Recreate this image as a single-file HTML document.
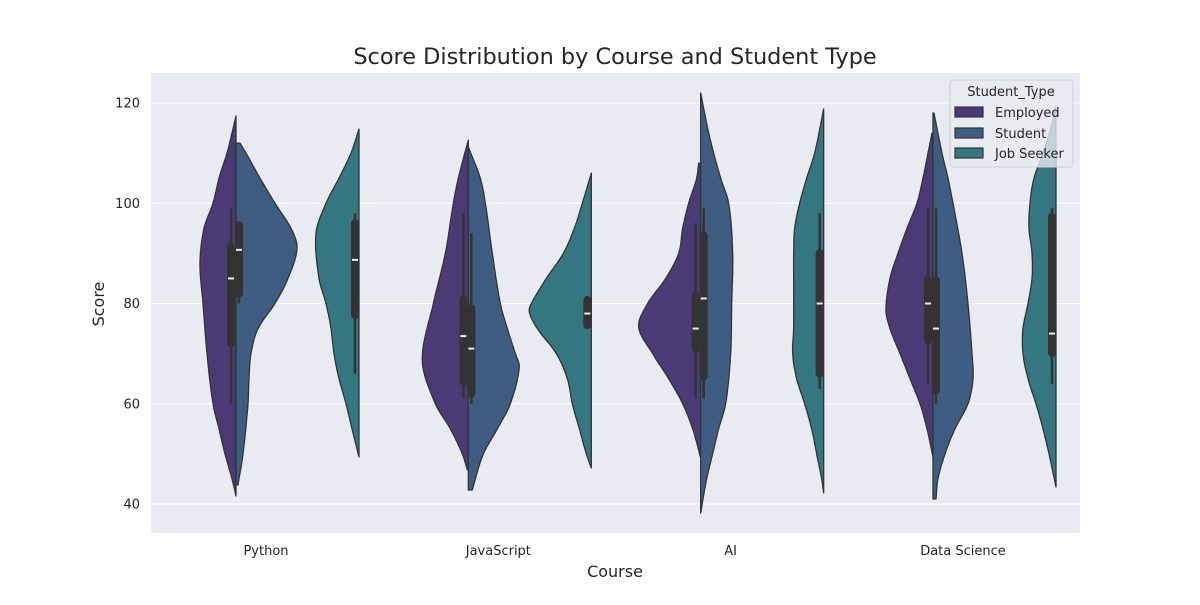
<!DOCTYPE html>
<html><head><meta charset="utf-8"><style>
body{margin:0;background:#fff;font-family:"Liberation Sans","DejaVu Sans",sans-serif;}
svg text{font-family:"DejaVu Sans","Liberation Sans",sans-serif;fill:#262626;}
</style></head><body>
<svg id="chart" width="1200" height="600" viewBox="0 0 1200 600" xmlns="http://www.w3.org/2000/svg">
<rect x="151" y="73" width="929" height="460" fill="#eaeaf2"/>
<g id="grid"></g>
<g id="violins"></g>
<g id="boxes"></g>
<g id="ticks"></g>
<text x="615" y="64" text-anchor="middle" font-size="22.4">Score Distribution by Course and Student Type</text>
<text x="615" y="577" text-anchor="middle" font-size="16">Course</text>
<text transform="translate(104,304) rotate(-90)" text-anchor="middle" font-size="16">Score</text>
<g>
<rect x="950" y="80" width="123" height="87" rx="3" fill="#eaeaf2" fill-opacity="0.8" stroke="#d0d0d8"/>
<text x="1011" y="96" text-anchor="middle" font-size="13">Student_Type</text>
<rect x="955" y="107" width="28" height="10" fill="#4a3b76" stroke="#333" stroke-width="1.2"/>
<text x="995" y="117" font-size="13">Employed</text>
<rect x="955" y="128" width="28" height="10" fill="#3f5d82" stroke="#333" stroke-width="1.2"/>
<text x="995" y="138" font-size="13">Student</text>
<rect x="955" y="148" width="28" height="10" fill="#347781" stroke="#333" stroke-width="1.2"/>
<text x="995" y="158" font-size="13">Job Seeker</text>
</g>
</svg>
<script>
const categories = ["Python","JavaScript","AI","Data Science"];
const seriesNames = ["Employed","Student","Job Seeker"];
const yTicks = [40,60,80,100,120];
// density profiles: score values and half-widths (px) per course
const employedScores = [
 [41.6,45,50,55,60,70,80,88,95,100,105,110,114,117.4],
 [46.8,50,55,60,68.7,80,90,100,105,112.6],
 [49.2,55,60,65,70,75.3,80,85,90,95,100,105,108],
 [49.4,55,60,65,70,75,78.7,85,90,95,100,105,110,114]];
const employedWidths = [
 [0,4,11,17,23,29,33,36,32,23,17,9,4,0],
 [1,6,18,33,46,35,23,15,10,0],
 [0,8,18,32,48,62,53,35,22,18,12,4,2],
 [0,6,13,23,33,43,47,43,35,26,16,10,5,1]];
const studentScores = [
 [43.8,50,60,65,70,75,80,85,91,95,100,105,110,112],
 [42.8,45,50,55,60,67.3,70,75,80,90,100,105,111.2],
 [38.2,45,50,55,60,70,80,90,100,105,110,115,122],
 [41,45,50,55,60,65,70,80,90,100,105,110,118]];
const studentWidths = [
 [2,7,12,13,15,22,39,52,61,55,39,24,10,4],
 [4,7,15,29,42,51,47,39,32,24,17,12,0],
 [0,6,12,18,25,30,31,32,28,20,13,7,0],
 [3,5,12,22,35,40,39,35,29,20,15,9,1]];
const seekerScores = [
 [49.4,55,60,65,70,75,80,85,94,100,105,110,114.8],
 [47.2,50,55,60,65,70,75,78.3,80,85,90,95,100,106],
 [42.2,45,50,55,60,65,70,75,80,85,90,95,100,105,110,118.8],
 [43.4,50,55,60,65,70,75,80,85,90,95,100,105,110,115,119.4]];
const seekerWidths = [
 [0,7,13,20,25,28,33,40,43,33,20,8,0],
 [0,5,12,19,24,35,54,62,60,45,28,17,9,0],
 [0,2,7,12,19,27,31,30,30,30,30,29,24,17,9,0],
 [0,7,13,20,28,33,33,28,24,24,27,26,22,13,5,0]];
// box stats [whiskerLow, q1, median, q3, whiskerHigh]
const employedBox = [[60,72,85,91.3,99],[61,64.3,73.5,80.8,98],[61,71,75,81.5,96],[64,72.7,80,84.7,99]];
const studentBox = [[80,82,90.7,95.6,96],[60,62,71,79,94],[61,65.4,81,93.6,99],[60,62.7,75,84.7,99]];
const seekerBox = [[66,77.7,88.7,96,98],[75.7,75.7,78,80.7,80.7],[63,66,80,90,98],[64,70.1,74,97.3,99]];

const NS="http://www.w3.org/2000/svg";
const yS = v => 504 - (v-40)*5.0125;
const xS = i => 236 + i*232.33;
const seekerOffset = 123;
const colors = ["#4a3b76","#3f5d82","#347781"];
function mk(tag, attrs, parent){const e=document.createElementNS(NS,tag);for(const k in attrs)e.setAttribute(k,attrs[k]);parent.appendChild(e);return e;}
const grid=document.getElementById('grid'), vg=document.getElementById('violins'), bg=document.getElementById('boxes'), tg=document.getElementById('ticks');
yTicks.forEach(t=>{
 const l=mk('line',{x1:151,x2:1080,y1:yS(t),y2:yS(t),stroke:'#fff','stroke-width':1},grid);
 
 
 const tx=mk('text',{x:140,y:yS(t)+4.5,'text-anchor':'end','font-size':13},tg);
 tx.textContent=t;
 
 
});
categories.forEach((c,i)=>{
 const tx=mk('text',{x:xS(i)+30,y:555,'text-anchor':'middle','font-size':13},tg);
 tx.textContent=c;
 
 
});
// Hermite spline of width as a function of score
function widthAt(s, S, W){
 const n=S.length;
 let k=0; while(k<n-2 && s>S[k+1]) k++;
 const tan=j=>{const a=Math.max(0,j-1),b=Math.min(n-1,j+1);return (W[b]-W[a])/(S[b]-S[a]);};
 const h=S[k+1]-S[k], t=Math.min(1,Math.max(0,(s-S[k])/h));
 const m0=tan(k)*h, m1=tan(k+1)*h;
 const t2=t*t,t3=t2*t;
 return Math.max(0,(2*t3-3*t2+1)*W[k]+(t3-2*t2+t)*m0+(-2*t3+3*t2)*W[k+1]+(t3-t2)*m1);
}
function violin(cx, scores, widths, side, color, name){
 const lo=scores[0], hi=scores[scores.length-1];
 let d=`M${cx},${yS(lo).toFixed(1)}`;
 const N=120;
 for(let j=0;j<=N;j++){
  const s=lo+(hi-lo)*j/N;
  d+=` L${(cx+side*widthAt(s,scores,widths)).toFixed(1)},${yS(s).toFixed(1)}`;
 }
 d+=` L${cx},${yS(hi).toFixed(1)} Z`;
 const p=mk('path',{d:d,fill:color,stroke:'#333','stroke-width':1.3,'stroke-linejoin':'round'},vg);
 
 
}
function box(bx, b, name){
 const w=mk('line',{x1:bx,x2:bx,y1:yS(b[0]),y2:yS(b[4]),stroke:'#333','stroke-width':2.5},bg);
 
 
 const r=mk('line',{x1:bx,x2:bx,y1:yS(b[1]),y2:yS(b[3]),stroke:'#333','stroke-width':8,'stroke-linecap':'round'},bg);
 
 
 const m=mk('line',{x1:bx-3,x2:bx+3,y1:yS(b[2]),y2:yS(b[2]),stroke:'#eee','stroke-width':2},bg);
 
 
}
categories.forEach((c,i)=>{
 const cx=xS(i);
 violin(cx, employedScores[i], employedWidths[i], -1, colors[0], 'violin-employed');
 violin(cx, studentScores[i], studentWidths[i], 1, colors[1], 'violin-student');
 violin(cx+seekerOffset, seekerScores[i], seekerWidths[i], -1, colors[2], 'violin-job-seeker');
 box(cx-5, employedBox[i], 'employed');
 box(cx+3, studentBox[i], 'student');
 box(cx+seekerOffset-4, seekerBox[i], 'job-seeker');
});
</script>
</body></html>
